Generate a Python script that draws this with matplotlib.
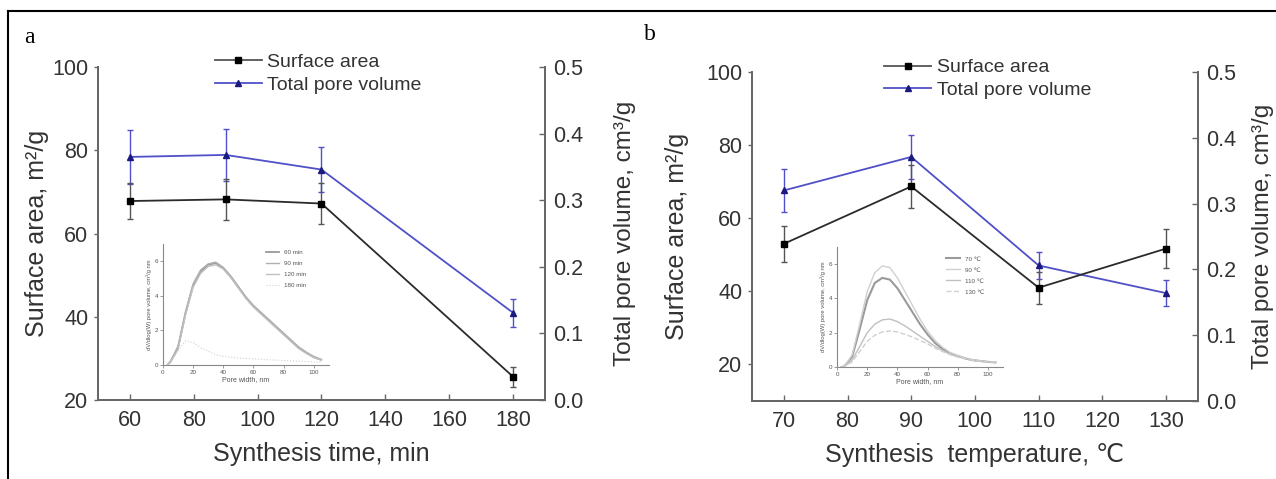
import matplotlib.pyplot as plt
from matplotlib.lines import Line2D

plt.rcParams['font.family'] = ['Liberation Sans', 'DejaVu Sans']

# panel a: synthesis time
time_min = [60, 90, 120, 180]
area_time = [67.8, 68.2, 67.2, 25.6]
area_time_err = [4.4, 5.0, 5.0, 2.4]
vol_time = [0.365, 0.368, 0.346, 0.131]
vol_time_err = [0.040, 0.039, 0.034, 0.021]

# panel b: synthesis temperature
temp_c = [70, 90, 110, 130]
area_temp = [53.0, 68.7, 41.0, 51.7]
area_temp_err = [4.9, 6.0, 4.4, 5.3]
vol_temp = [0.320, 0.371, 0.206, 0.164]
vol_temp_err = [0.032, 0.034, 0.021, 0.020]

# inset pore size distributions
pore_w = [3, 5, 10, 15, 20, 25, 30, 35, 40, 45, 50, 55, 60, 65, 70, 75, 80, 85, 90, 95, 100, 105]
psd_60 = [0, 0.2, 1.0, 3.0, 4.6, 5.4, 5.8, 5.9, 5.6, 5.1, 4.5, 3.9, 3.4, 3.0, 2.6, 2.2, 1.8, 1.4, 1.0, 0.7, 0.45, 0.3]
psd_90 = [0, 0.2, 1.1, 3.1, 4.7, 5.5, 5.85, 5.95, 5.65, 5.15, 4.55, 3.95, 3.45, 3.05, 2.65, 2.25, 1.85, 1.45, 1.05, 0.75, 0.5, 0.32]
psd_120 = [0, 0.15, 0.9, 2.9, 4.5, 5.3, 5.7, 5.8, 5.55, 5.05, 4.45, 3.85, 3.35, 2.95, 2.55, 2.15, 1.75, 1.35, 0.95, 0.68, 0.44, 0.28]
psd_180 = [0, 0.2, 0.8, 1.4, 1.3, 1.0, 0.8, 0.6, 0.5, 0.45, 0.4, 0.38, 0.35, 0.33, 0.3, 0.28, 0.26, 0.24, 0.22, 0.2, 0.18, 0.16]
psd_70 = [0, 0.05, 0.6, 2.2, 3.9, 4.9, 5.2, 5.1, 4.6, 3.9, 3.2, 2.5, 1.9, 1.4, 1.05, 0.8, 0.65, 0.5, 0.4, 0.35, 0.3, 0.27]
psd_90c = [0, 0.06, 0.7, 2.5, 4.4, 5.5, 5.9, 5.8, 5.2, 4.4, 3.6, 2.8, 2.1, 1.55, 1.15, 0.85, 0.68, 0.52, 0.42, 0.36, 0.31, 0.28]
psd_110 = [0, 0.05, 0.4, 1.2, 2.0, 2.5, 2.75, 2.8, 2.65, 2.4, 2.1, 1.8, 1.5, 1.2, 0.95, 0.75, 0.6, 0.5, 0.4, 0.35, 0.3, 0.27]
psd_130 = [0, 0.04, 0.3, 0.9, 1.5, 1.85, 2.05, 2.1, 2.05, 1.9, 1.75, 1.55, 1.35, 1.1, 0.9, 0.72, 0.58, 0.48, 0.4, 0.34, 0.3, 0.27]

BLACK = '#2b2b2b'
BLUE = '#5050c8'
NAVY = '#1a1a80'
SPINE = '#666666'
TXT = '#333333'

fig = plt.figure(figsize=(12.76, 4.79), dpi=100)


def style_main(ax, ax2):
    for a in (ax, ax2):
        a.spines['top'].set_visible(False)
        for s in a.spines.values():
            s.set_color(SPINE)
            s.set_linewidth(1.3)
    ax.tick_params(axis='x', direction='in', length=4, width=1, colors=SPINE,
                   labelcolor=TXT, labelsize=15.5, pad=7)
    ax.tick_params(axis='y', direction='out', length=3, width=1, colors=SPINE,
                   labelcolor=TXT, labelsize=15.5, pad=4)
    ax2.tick_params(axis='y', direction='in', length=4, width=1, colors=SPINE,
                    labelcolor=TXT, labelsize=15.5, pad=6)


def draw_panel(rect, x, area, area_err, vol, vol_err, xlim, ylim, xticks, yticks, xlabel,
               lpad, rpad):
    ax = fig.add_axes(rect)
    ax2 = ax.twinx()
    ax.set_zorder(ax2.get_zorder() + 1)
    ax.patch.set_visible(False)
    ax.errorbar(x, area, yerr=area_err, color=BLACK, ecolor='#555555', elinewidth=1,
                capsize=2.5, capthick=1, lw=1.3, marker='s', ms=5, mfc='black', mec='black')
    ax2.errorbar(x, vol, yerr=vol_err, color=BLUE, ecolor=BLUE, elinewidth=1,
                 capsize=2.5, capthick=1, lw=1.3, marker='^', ms=5, mfc=NAVY, mec=NAVY)
    ax.set_xlim(*xlim)
    ax.set_ylim(*ylim)
    ax2.set_ylim(0, 0.5)
    ax.set_xticks(xticks)
    ax.set_yticks(yticks)
    ax2.set_yticks([0.0, 0.1, 0.2, 0.3, 0.4, 0.5])
    ax2.set_yticklabels(['0.0', '0.1', '0.2', '0.3', '0.4', '0.5'])
    ax.set_xlabel(xlabel, fontsize=18, color=TXT, labelpad=8)
    ax.set_ylabel('Surface area, m\u00b2/g', fontsize=18, color=TXT, labelpad=lpad)
    ax2.set_ylabel('Total pore volume, cm\u00b3/g', fontsize=17.5, color=TXT, labelpad=rpad)
    style_main(ax, ax2)
    handles = [Line2D([0], [0], color='#555555', lw=1.3, marker='s', ms=4, mfc='black', mec='black'),
               Line2D([0], [0], color=BLUE, lw=1.3, marker='^', ms=4, mfc=NAVY, mec=NAVY)]
    return ax, handles


def draw_inset(rect, curves, colors, widths, styles, labels, leg_anchor):
    ins = fig.add_axes(rect)
    ins.patch.set_visible(False)
    for c, col, w, st, lab in zip(curves, colors, widths, styles, labels):
        ins.plot(pore_w, c, color=col, lw=w, ls=st, label=lab)
    ins.set_xlim(0, 110)
    ins.set_ylim(0, 7)
    ins.set_xticks([0, 20, 40, 60, 80, 100])
    ins.set_yticks([0, 2, 4, 6])
    for s in ('top', 'right'):
        ins.spines[s].set_visible(False)
    for s in ('left', 'bottom'):
        ins.spines[s].set_color('#888888')
        ins.spines[s].set_linewidth(0.8)
    ins.tick_params(length=2, width=0.6, colors='#888888', labelcolor='#555555',
                    labelsize=4.5, pad=1.5)
    ins.set_xlabel('Pore width, nm', fontsize=5, color='#555555', labelpad=1)
    ins.set_ylabel('dV/dlog(W) pore volume, cm\u00b3/g nm', fontsize=4.2,
                   color='#555555', labelpad=2)
    ins.legend(loc='upper left', bbox_to_anchor=leg_anchor, frameon=False,
               fontsize=4.5, handlelength=2.2, labelspacing=0.9, borderpad=0,
               labelcolor='#555555')


ax_a, h_a = draw_panel([0.0768, 0.1649, 0.3503, 0.6952], time_min, area_time, area_time_err,
                       vol_time, vol_time_err, (50, 190), (20, 100),
                       [60, 80, 100, 120, 140, 160, 180], [20, 40, 60, 80, 100],
                       'Synthesis time, min', 2, 22)
ax_a.legend(h_a, ['Surface area', 'Total pore volume'], loc='upper left',
            bbox_to_anchor=(0.24, 1.07), frameon=False, fontsize=14, handlelength=2.4,
            handletextpad=0.3, labelspacing=0.25, borderpad=0, labelcolor=TXT)

ax_b, h_b = draw_panel([0.5893, 0.1628, 0.3495, 0.6868], temp_c, area_temp, area_temp_err,
                       vol_temp, vol_temp_err, (65, 135), (10, 100),
                       [70, 80, 90, 100, 110, 120, 130], [20, 40, 60, 80, 100],
                       'Synthesis  temperature, \u2103', 12, 11)
ax_b.legend(h_b, ['Surface area', 'Total pore volume'], loc='upper left',
            bbox_to_anchor=(0.275, 1.07), frameon=False, fontsize=14, handlelength=2.4,
            handletextpad=0.3, labelspacing=0.25, borderpad=0, labelcolor=TXT)

draw_inset([0.1277, 0.238, 0.130, 0.2526], [psd_60, psd_90, psd_120, psd_180],
           ['#9a9a9a', '#b0b0b0', '#c0c0c0', '#d0d0d0'], [1.3, 1.0, 1.0, 0.8],
           ['-', '-', '-', ':'], ['60 min', '90 min', '120 min', '180 min'], (0.6, 0.98))
draw_inset([0.656, 0.2338, 0.130, 0.2505], [psd_70, psd_90c, psd_110, psd_130],
           ['#9a9a9a', '#d0d0d0', '#c0c0c0', '#d0d0d0'], [1.5, 1.0, 1.0, 1.0],
           ['-', '-', '-', '--'], ['70 \u2103', '90 \u2103', '110 \u2103', '130 \u2103'],
           (0.64, 0.95))

# panel letters and the frame lines
fig.text(0.0227, 0.922, 'a', fontsize=17, family='Liberation Serif', va='center', ha='center')
fig.text(0.509, 0.927, 'b', fontsize=17, family='Liberation Serif', va='center', ha='center')
fig.add_artist(Line2D([0.0063, 1.0], [0.976, 0.976], color='black', lw=1.5, transform=fig.transFigure))
fig.add_artist(Line2D([0.0063, 0.0063], [0.0, 0.976], color='black', lw=1.5, transform=fig.transFigure))

fig.savefig('out.png', dpi=100)
